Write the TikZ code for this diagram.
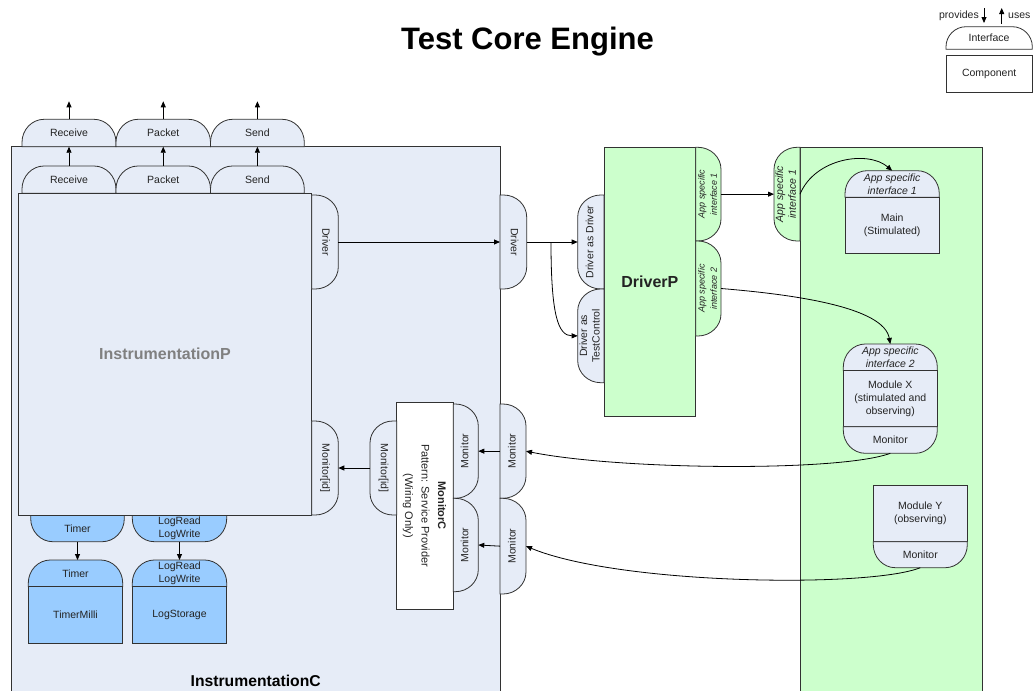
\documentclass[tikz,border=0pt]{standalone}
\usepackage{fontspec}
\setmainfont{Liberation Sans}
\usepackage{graphicx}
\usetikzlibrary{arrows.meta}
\definecolor{cbg}{RGB}{230,236,247}
\definecolor{cgr}{RGB}{204,255,204}
\definecolor{cbl}{RGB}{153,204,255}
\definecolor{cln}{RGB}{50,50,50}
\definecolor{ctx}{RGB}{35,35,35}
\definecolor{cgy}{RGB}{128,128,128}
\newcommand\fs{\fontsize{10.5}{12.6}\selectfont}
\newcommand\fsm{\fontsize{9}{12.3}\selectfont}
\newcommand\vt[2]{\rotatebox{#1}{\begin{tabular}{@{}c@{}}#2\end{tabular}}}
\def\ra{23}\def\rl{22}
% interface rounded on top
\newcommand\IfU[7]{%
 \filldraw[shp,fill=#2] (#3,#6) -- (#3,{#4+\ra}) .. controls (#3,{#4+0.45*\ra}) and ({#3+0.45*\rl},#4) .. ({#3+\rl},#4) -- ({#5-\rl},#4) .. controls ({#5-0.45*\rl},#4) and (#5,{#4+0.45*\ra}) .. (#5,{#4+\ra}) -- (#5,#6) -- cycle;
 \node[lbl,minimum width={#5pt-#3pt},minimum height={#6pt-#4pt}] (#1) at ({(#3+#5)/2},{(#4+#6)/2}) {#7};}
% interface rounded at bottom
\newcommand\IfD[7]{%
 \filldraw[shp,fill=#2] (#3,#4) -- (#3,{#6-\ra}) .. controls (#3,{#6-0.45*\ra}) and ({#3+0.45*\rl},#6) .. ({#3+\rl},#6) -- ({#5-\rl},#6) .. controls ({#5-0.45*\rl},#6) and (#5,{#6-0.45*\ra}) .. (#5,{#6-\ra}) -- (#5,#4) -- cycle;
 \node[lbl,minimum width={#5pt-#3pt},minimum height={#6pt-#4pt}] (#1) at ({(#3+#5)/2},{(#4+#6)/2}) {#7};}
% interface rounded on the right
\newcommand\IfR[7]{%
 \filldraw[shp,fill=#2] (#3,#4) -- ({#5-\ra},#4) .. controls ({#5-0.45*\ra},#4) and (#5,{#4+0.45*\rl}) .. (#5,{#4+\rl}) -- (#5,{#6-\rl}) .. controls (#5,{#6-0.45*\rl}) and ({#5-0.45*\ra},#6) .. ({#5-\ra},#6) -- (#3,#6) -- cycle;
 \node[lbl,minimum width={#5pt-#3pt},minimum height={#6pt-#4pt}] (#1) at ({(#3+#5)/2},{(#4+#6)/2}) {#7};}
% interface rounded on the left
\newcommand\IfL[7]{%
 \filldraw[shp,fill=#2] (#5,#4) -- ({#3+\ra},#4) .. controls ({#3+0.45*\ra},#4) and (#3,{#4+0.45*\rl}) .. (#3,{#4+\rl}) -- (#3,{#6-\rl}) .. controls (#3,{#6-0.45*\rl}) and ({#3+0.45*\ra},#6) .. ({#3+\ra},#6) -- (#5,#6) -- cycle;
 \node[lbl,minimum width={#5pt-#3pt},minimum height={#6pt-#4pt}] (#1) at ({(#3+#5)/2},{(#4+#6)/2}) {#7};}
\newcommand\Rect[7]{\node[box,fill=#2,minimum width={#5pt-#3pt},minimum height={#6pt-#4pt}] (#1) at ({(#3+#5)/2},{(#4+#6)/2}) {#7};}
\tikzset{
 shp/.style={draw=cln,line width=0.8pt},
 lbl/.style={inner sep=0pt,outer sep=0pt,font=\fs,text=ctx,align=center},
 box/.style={draw=cln,line width=0.8pt,inner sep=0pt,outer sep=0pt,font=\fs,text=ctx,align=center},
 arr/.style={draw=black,line width=0.8pt,-{Triangle[length=6pt,width=5pt]}}
}
\begin{document}
\begin{tikzpicture}[x=1pt,y=-1pt]
\useasboundingbox (0,0) rectangle (1034,691);
% title
\node[anchor=base,font=\fontsize{31}{36}\selectfont\bfseries,text=black] (title) at (527.5,49) {Test Core Engine};
% legend
\node[anchor=base east,font=\fs,text=ctx,inner sep=0pt] (lgP) at (979,18.5) {provides};
\node[anchor=base west,font=\fs,text=ctx,inner sep=0pt] (lgU) at (1008,18.5) {uses};
\begin{scope}
\def\ra{20}\def\rl{20}
\IfU{lgI}{white}{946}{26.7}{1032.3}{49.3}{Interface}
\end{scope}
\Rect{lgC}{white}{946}{55}{1032.3}{92.7}{Component}
\coordinate (pvA) at (984,8);
\coordinate (pvB) at (984,23);
\coordinate (usA) at (1001.7,23.5);
\coordinate (usB) at (1001.7,8);
\draw[arr] (pvA) -- (pvB);
\draw[arr] (usA) -- (usB);
% InstrumentationC
\Rect{instC}{cbg}{11}{146.7}{500}{720}{}
\node[anchor=base,font=\fontsize{15.7}{18}\selectfont\bfseries,text=black,inner sep=0pt] (instClbl) at (255.7,686) {InstrumentationC};
% outer interfaces
\IfU{rO}{cbg}{22}{119.3}{116}{146.7}{Receive}
\IfU{pO}{cbg}{116}{119.3}{210.5}{146.7}{Packet}
\IfU{sO}{cbg}{210.5}{119.3}{304.3}{146.7}{Send}
% inner interfaces
\IfU{rI}{cbg}{22}{166}{116}{193.3}{Receive}
\IfU{pI}{cbg}{116}{166}{210.5}{193.3}{Packet}
\IfU{sI}{cbg}{210.5}{166}{304.3}{193.3}{Send}
% Timer / Log
\IfD{tmI}{cbl}{30.7}{515}{124.3}{541.7}{Timer}
\IfD{lgIf}{cbl}{132.3}{515}{226.7}{541.7}{LogRead\\LogWrite}
% InstrumentationP
\Rect{instP}{cbg}{18.3}{193.3}{311.7}{515}{\textcolor{cgy}{\fontsize{16}{19}\selectfont\bfseries InstrumentationP}}
\IfR{drvP}{cbg}{311.7}{195}{338.3}{289}{\vt{-90}{Driver}}
\IfR{midP}{cbg}{311.7}{421}{338.3}{515}{\vt{-90}{Monitor[id]}}
% TimerMilli / LogStorage
\IfU{tmMI}{cbl}{28.3}{560}{122.7}{586.7}{Timer}
\Rect{tmM}{cbl}{28.3}{586.7}{122.7}{643.3}{TimerMilli}
\IfU{lsI}{cbl}{132.3}{560}{226.7}{586.7}{LogRead\\LogWrite}
\Rect{lsM}{cbl}{132.3}{586.7}{226.7}{643.3}{LogStorage}
% MonitorC
\Rect{monC}{white}{396.7}{402.3}{453.3}{609}{\fontsize{11}{16.5}\selectfont\vt{-90}{\textbf{MonitorC}\\Pattern: Service Provider\\(Wiring Only)}}
\IfL{midC}{cbg}{370}{421}{396.7}{515}{\vt{-90}{Monitor[id]}}
\IfR{monC1}{cbg}{453.3}{404}{478.3}{498.3}{\vt{90}{Monitor}}
\IfR{monC2}{cbg}{453.3}{498.3}{478.3}{591.7}{\vt{90}{Monitor}}
% InstrumentationC right-edge interfaces
\IfR{drvC}{cbg}{500}{195}{526.7}{289}{\vt{-90}{Driver}}
\IfR{monO1}{cbg}{500}{404}{526}{498.3}{\vt{90}{Monitor}}
\IfR{monO2}{cbg}{500}{498.3}{526}{594}{\vt{90}{Monitor}}
% DriverP
\Rect{drvPbox}{cgr}{604}{147.3}{695.7}{416.7}{\fontsize{16}{19}\selectfont\bfseries DriverP}
\IfL{dad}{cbg}{577.7}{195}{604}{289}{\vt{90}{Driver as Driver}}
\IfL{datc}{cbg}{577.7}{289}{604}{382.7}{\vt{90}{Driver as\\TestControl}}
\IfR{as1D}{cgr}{695.7}{147.3}{721}{241}{\fsm\vt{90}{\textit{App specific}\\\textit{interface 1}}}
\IfR{as2D}{cgr}{695.7}{241}{721}{336}{\fsm\vt{90}{\textit{App specific}\\\textit{interface 2}}}
% application side
\Rect{app}{cgr}{800}{147.3}{982.3}{720}{}
\IfL{as1R}{cgr}{774}{147.3}{800}{241}{\vt{90}{\textit{App specific}\\\textit{interface 1}}}
\IfU{mainI}{cbg}{845}{170.7}{939.3}{197.3}{\textit{App specific}\\\textit{interface 1}}
\Rect{main}{cbg}{845}{197.3}{939.3}{253.3}{Main\\(Stimulated)}
\IfU{mxI}{cbg}{843.3}{344}{937.3}{370.7}{\textit{App specific}\\\textit{interface 2}}
\Rect{mx}{cbg}{843.3}{370.7}{937.3}{426.7}{Module X\\(stimulated and\\observing)}
\IfD{mxM}{cbg}{843.3}{426.7}{937.3}{453.3}{Monitor}
\Rect{my}{cbg}{873.3}{485}{967.3}{541.7}{Module Y\\(observing)}
\IfD{myM}{cbg}{873.3}{541.7}{967.3}{567.7}{Monitor}
% connectors
\path (rO.north) ++(0,-18) coordinate (rT);
\path (pO.north) ++(0,-18) coordinate (pT);
\path (sO.north) ++(0,-18) coordinate (sT);
\draw[arr] (rO.north) -- (rT);
\draw[arr] (pO.north) -- (pT);
\draw[arr] (sO.north) -- (sT);
\draw[arr] (rI.north) -- (rO.south);
\draw[arr] (pI.north) -- (pO.south);
\draw[arr] (sI.north) -- (sO.south);
\draw[arr] (tmI.south) -- (tmI.south |- tmMI.north);
\draw[arr] (lgIf.south) -- (lsI.north);
\draw[arr] (drvP.east) -- (drvC.west);
\draw[arr] (drvC.east) -- (dad.west);
\coordinate (br) at (551,242);
\draw[arr] (br) .. controls (551,315) and (558,335.8) .. (datc.west);
\draw[arr] (as1D.east) -- (as1R.west);
\draw[arr] (as1R.east) .. controls (815,158) and (868,150) .. (mainI.north);
\draw[arr] (as2D.east) .. controls (800,295) and (884,308) .. (mxI.north);
\draw[arr] (mxM.south) .. controls (840,472) and (620,470) .. (monO1.east);
\draw[arr] (myM.south) .. controls (870,588) and (620,585) .. (monO2.east);
\draw[arr] (monO1.west) -- (monC1.east);
\draw[arr] (monO2.west) -- (monC2.east);
\draw[arr] (midC.west) -- (midP.east);
\end{tikzpicture}
\end{document}
